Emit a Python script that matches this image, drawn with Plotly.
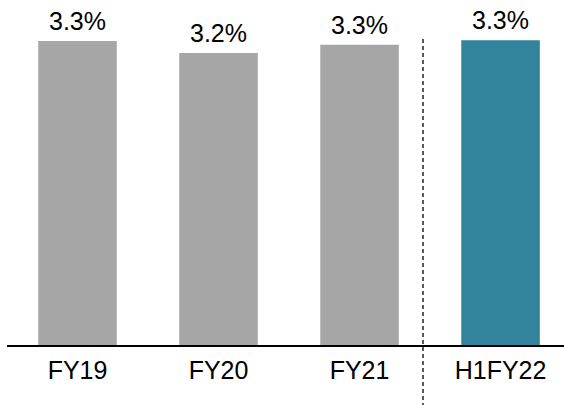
import plotly.graph_objects as go

# Share of revenue by period
categories = ["FY19", "FY20", "FY21", "H1FY22"]
values = [3.30, 3.17, 3.26, 3.31]
bar_colors = ["#A6A6A6", "#A6A6A6", "#A6A6A6", "#31849B"]

font_family = "Liberation Sans, Arial, sans-serif"

fig = go.Figure(
    go.Bar(
        x=categories,
        y=values,
        marker=dict(color=bar_colors, line=dict(width=0)),
        width=0.557,
        hoverinfo="skip",
    )
)

# value labels above each bar
for cat, v in zip(categories, values):
    fig.add_annotation(
        x=cat, y=v, text=f"{v:.1f}%", showarrow=False,
        yanchor="bottom", yshift=4,
        font=dict(family=font_family, size=25, color="#000000"),
    )

# dashed separator between full-year and half-year figures
fig.add_shape(
    type="line", xref="x", yref="paper",
    x0=2.45, x1=2.45, y0=-0.18, y1=0.896,
    line=dict(color="#000000", width=1.3, dash="4px,3px"),
)

fig.update_layout(
    width=564, height=405,
    margin=dict(l=7, r=0, t=0, b=60),
    paper_bgcolor="white", plot_bgcolor="white",
    showlegend=False,
    font=dict(family=font_family, size=25, color="#000000"),
    xaxis=dict(
        range=[-0.5, 3.45],
        showline=True, linecolor="#000000", linewidth=1.5,
        ticks="", showgrid=False, zeroline=False,
        tickfont=dict(family=font_family, size=25, color="#000000"),
        ticklabelstandoff=2,
    ),
    yaxis=dict(
        range=[0, 3.746], visible=False, showgrid=False, zeroline=False,
    ),
)

fig.write_html("out.html")
